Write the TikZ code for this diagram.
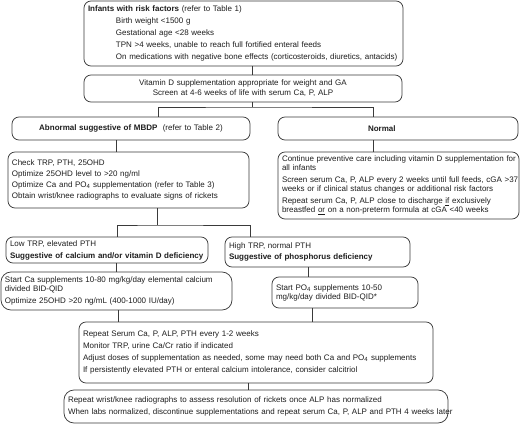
\documentclass[tikz,border=0pt]{standalone}
\usepackage{fontspec}
\setmainfont{Liberation Sans}
\definecolor{linec}{HTML}{3A3A3A}
\definecolor{txtc}{HTML}{1E1E1E}
\newcommand{\fsz}{\fontsize{8}{9}\selectfont}
\tikzset{
  box/.style={draw=linec, line width=0.75pt, rounded corners=7pt, inner xsep=4pt, inner ysep=0pt,
    align=left, font=\fsz, text=txtc, anchor=center},
  conn/.style={draw=linec, line width=0.75pt}
}
\begin{document}
\begin{tikzpicture}[x=1pt,y=-1pt]
\useasboundingbox (0,0) rectangle (520,424);
\fill[white] (0,0) rectangle (520,424);

\node[box, text width=311pt, minimum height=65pt] (risk) at (243.5,33.5)
{\textbf{Infants with risk factors} (refer to Table 1)\\[3pt]
\hspace*{28pt}Birth weight <1500 g\\[3pt]
\hspace*{28pt}Gestational age <28 weeks\\[3pt]
\hspace*{28pt}TPN >4 weeks, unable to reach full fortified enteral feeds\\[3pt]
\hspace*{28pt}\mbox{On medications with negative bone effects (corticosteroids, diuretics, antacids)}};

\node[box, align=center, text width=310pt, minimum height=27pt] (vitd) at (243,88.5)
{Vitamin D supplementation appropriate for weight and GA\\[1pt]
Screen at 4-6 weeks of life with serum Ca, P, ALP};

\node[box, align=center, text width=230pt, minimum height=23pt] (abn) at (131,128.5)
{\textbf{Abnormal suggestive of MBDP}\ \ (refer to Table 2)};

\node[box, text width=232pt, minimum height=23pt] (norm) at (398,128.5)
{\hspace*{86pt}\textbf{Normal}};

\node[box, text width=233pt, minimum height=56pt] (check) at (128.5,180)
{Check TRP, PTH, 25OHD\\[2pt]
Optimize 25OHD level to >20 ng/ml\\[2pt]
Optimize Ca and PO\textsubscript{4} supplementation (refer to Table 3)\\[2pt]
Obtain wrist/knee radiographs to evaluate signs of rickets};

\node[box, text width=233pt, minimum height=67pt] (normdet) at (398.5,185.5)
{\mbox{Continue preventive care including vitamin D supplementation for}\\
all infants\\[3pt]
\mbox{Screen serum Ca, P, ALP every 2 weeks until full feeds, cGA >37}\\
weeks or if clinical status changes or additional risk factors\\[3pt]
Repeat serum Ca, P, ALP close to discharge \underline{if} exclusively\\
breastfed \underline{or} on a non-preterm formula at cGA <40 weeks};

\node[box, text width=194pt, minimum height=26pt] (low) at (107,250)
{Low TRP, elevated PTH\\[3pt]
\textbf{Suggestive of calcium and/or vitamin D deficiency}};

\node[box, text width=177pt, minimum height=30pt] (high) at (317.5,252)
{High TRP, normal PTH\\[2pt]
\textbf{Suggestive of phosphorus deficiency}};

\node[box, rounded corners=10pt, text width=223pt, minimum height=38pt] (startca) at (116.5,291)
{Start Ca supplements 10-80 mg/kg/day elemental calcium\\
divided BID-QID\\[3pt]
Optimize 25OHD >20 ng/mL (400-1000 IU/day)};

\node[box, text width=138pt, minimum height=31pt] (startpo) at (345,292.5)
{Start PO\textsubscript{4} supplements 10-50\\
mg/kg/day divided BID-QID*};

\node[box, text width=346pt, minimum height=61pt] (repeat) at (256,352.5)
{Repeat Serum Ca, P, ALP, PTH every 1-2 weeks\\[3pt]
Monitor TRP, urine Ca/Cr ratio if indicated\\[3pt]
Adjust doses of supplementation as needed, some may need both Ca and PO\textsubscript{4} supplements\\[3pt]
If persistently elevated PTH or enteral calcium intolerance, consider calcitriol};

\node[box, rounded corners=10pt, text width=376pt, minimum height=33pt] (last) at (256,406.5)
{Repeat wrist/knee radiographs to assess resolution of rickets once ALP has normalized\\[3pt]
\mbox{When labs normalized, discontinue supplementations and repeat serum Ca, P, ALP and PTH 4 weeks later}};

% column coordinates
\coordinate (x252) at (252,0);
\coordinate (x158) at (158,0);
\coordinate (x373) at (373,0);
\coordinate (x116) at (116,0);
\coordinate (x117) at (117,0);
\coordinate (x250) at (250,0);
\coordinate (x308) at (308,0);
\coordinate (x118) at (118,0);
\coordinate (x312) at (312,0);
\coordinate (x248) at (248,0);
\coordinate (j1) at (252,107);
\coordinate (j2) at (157,225);

\draw[conn] (risk.south -| x252) -- (vitd.north -| x252);
\draw[conn] (vitd.south -| j1) -- (j1);
\draw[conn] (abn.north -| x158) |- (j1) -| (norm.north -| x373);
\draw[conn] (abn.south -| x116) -- (check.north -| x116);
\draw[conn] (norm.south -| x373) -- (normdet.north -| x373);
\draw[conn] (check.south -| j2) -- (j2);
\draw[conn] (low.north -| x117) |- (j2) -| (high.north -| x250);
\draw[conn] (low.south -| x116) -- (startca.north -| x116);
\draw[conn] (high.south -| x308) -- (startpo.north -| x308);
\draw[conn] (startca.south -| x118) -- (repeat.north -| x118);
\draw[conn] (startpo.south -| x312) -- (repeat.north -| x312);
\draw[conn] (repeat.south -| x248) -- (last.north -| x248);
\end{tikzpicture}
\end{document}
